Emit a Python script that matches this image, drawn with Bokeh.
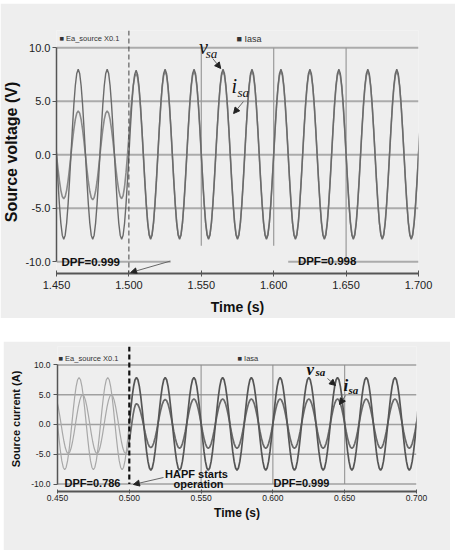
import math
from bokeh.plotting import figure
from bokeh.models import (Range1d, FixedTicker, NumeralTickFormatter, Label, Arrow,
                          NormalHead, Span, Spacer)
from bokeh.layouts import column, row
from bokeh.embed import file_html
from bokeh.resources import INLINE

# ---------------- data ----------------
top_x_ticks = [1.45, 1.50, 1.55, 1.60, 1.65, 1.70]
top_y_ticks = [-10, -5, 0, 5, 10]
# times of successive extremes (peaks / troughs) of the 50 Hz waveforms
top_ext_t = [1.445, 1.455, 1.465, 1.475, 1.485, 1.495, 1.505, 1.515, 1.525, 1.535,
             1.545, 1.555, 1.565, 1.575, 1.585, 1.595, 1.605, 1.615, 1.625, 1.635,
             1.645, 1.655, 1.665, 1.675, 1.685, 1.695, 1.705]
top_v_ext = [8.0, -7.9, 8.0, -7.9, 8.0, -7.9, 7.9, -7.9, 8.0, -7.9, 8.0, -7.9, 8.0, -7.9,
             8.0, -7.9, 8.0, -7.9, 8.0, -7.9, 8.0, -7.9, 8.0, -7.9, 8.0, -7.9, 8.0]
top_i_ext = [4.1, -4.1, 4.1, -4.2, 4.1, -4.1, 7.6, -7.8, 7.8, -7.8, 7.8, -7.8, 7.8, -7.8,
             7.8, -7.8, 7.8, -7.8, 7.8, -7.8, 7.8, -7.8, 7.8, -7.8, 7.8, -7.8, 7.8]

bot_x_ticks = [0.45, 0.50, 0.55, 0.60, 0.65, 0.70]
bot_y_ticks = [-10, -5, 0, 5, 10]
bot_v_t = [0.445, 0.455, 0.465, 0.475, 0.485, 0.495, 0.505, 0.515, 0.525, 0.535,
           0.545, 0.555, 0.565, 0.575, 0.585, 0.595, 0.605, 0.615, 0.625, 0.635,
           0.645, 0.655, 0.665, 0.675, 0.685, 0.695, 0.705]
bot_v_ext = [7.9, -7.6, 7.9, -7.6, 7.9, -7.6, 7.9, -7.7, 7.9, -7.7, 7.9, -7.7, 7.9, -7.7,
             7.9, -7.7, 7.9, -7.7, 7.9, -7.7, 7.9, -7.7, 7.9, -7.7, 7.9, -7.7, 7.9]
bot_i_t = [0.4475, 0.4575, 0.4675, 0.4775, 0.4875, 0.4975, 0.505, 0.515, 0.525, 0.535,
           0.545, 0.555, 0.565, 0.575, 0.585, 0.595, 0.605, 0.615, 0.625, 0.635,
           0.645, 0.655, 0.665, 0.675, 0.685, 0.695, 0.705]
bot_i_ext = [5.0, -4.9, 5.0, -4.9, 5.0, -4.9, 3.5, -3.9, 4.2, -4.0, 4.3, -4.0, 4.3, -4.0,
             4.3, -4.0, 4.3, -4.0, 4.3, -4.0, 4.3, -4.0, 4.3, -4.0, 4.3, -4.0, 4.3]
hapf_start = 0.50
top_switch = 1.50

BG = "#eeeeee"
FONT = "Liberation Sans"
SERIF = "Liberation Serif"


def half_waves(ts, vs, n=10):
    """Draw sinusoidal half-cycles between consecutive read extremes."""
    xs, ys = [], []
    for k in range(len(ts) - 1):
        t0, t1, a0, a1 = ts[k], ts[k + 1], vs[k], vs[k + 1]
        for j in range(n):
            f = j / n
            xs.append(t0 + (t1 - t0) * f)
            ys.append((a0 + a1) / 2 + (a0 - a1) / 2 * math.cos(math.pi * f))
    xs.append(ts[-1]); ys.append(vs[-1])
    return xs, ys


def split_at(xs, ys, t):
    k = max(i for i, x in enumerate(xs) if x <= t)
    return (xs[:k + 2], ys[:k + 2]), (xs[k:], ys[k:])


def style_axes(p, xt, yt, xfmt, tick_fs, title_x, title_y, tx_fs, ty_fs):
    p.grid.visible = False
    xa, ya = p.xaxis[0], p.yaxis[0]
    xa.ticker = FixedTicker(ticks=xt)
    ya.ticker = FixedTicker(ticks=yt)
    xa.formatter = NumeralTickFormatter(format=xfmt)
    ya.formatter = NumeralTickFormatter(format="0.0")
    ya.bounds = (min(yt), max(yt))
    for a in (xa, ya):
        a.axis_line_color = "#555555"
        a.major_tick_line_color = "#555555"
        a.minor_tick_line_color = None
        a.major_label_text_font = FONT
        a.major_label_text_font_size = tick_fs
        a.major_label_text_color = "#222222"
        a.axis_label_text_font = FONT
        a.axis_label_text_color = "#111111"
        a.axis_label_text_font_style = "bold"
    xa.axis_line_width = 2
    xa.major_tick_in = 3
    xa.major_tick_out = 3
    ya.axis_line_width = 1.5
    ya.major_tick_in = 0
    ya.major_tick_out = 4
    xa.axis_label = title_x
    ya.axis_label = title_y
    xa.axis_label_text_font_size = tx_fs
    ya.axis_label_text_font_size = ty_fs


def lab(p, x, y, text, size, style="normal", font=FONT, align="left", color="#111111"):
    p.add_layout(Label(x=x, y=y, text=text, text_font=font, text_font_size=size,
                       text_font_style=style, text_align=align, text_baseline="middle",
                       text_color=color))


def arrow(p, x0, y0, x1, y1, color="#666666"):
    p.add_layout(Arrow(end=NormalHead(size=6, fill_color="#222222", line_color="#222222"),
                       x_start=x0, y_start=y0, x_end=x1, y_end=y1,
                       line_color=color, line_width=1))


# ---------------- top panel ----------------
p1 = figure(width=455, height=315, x_range=Range1d(1.45, 1.70), y_range=Range1d(-11.09, 11.62),
            output_backend="svg", toolbar_location=None,
            min_border_left=52, min_border_right=37, min_border_top=27, min_border_bottom=45,
            background_fill_color=BG, border_fill_color=BG, outline_line_color=None)
style_axes(p1, top_x_ticks, top_y_ticks, "0.000", "11px", "Time (s)", "Source voltage (V)",
           "14px", "16px")
p1.xaxis.major_label_standoff = 4
p1.xaxis.axis_label_standoff = 7
p1.yaxis.major_label_standoff = 2
p1.yaxis.axis_label_standoff = 2

# grid lines
p1.segment(x0=[1.45] * 4 + [1.45, 1.610], x1=[1.70] * 4 + [1.5288, 1.70],
           y0=[10, 5, 0, -5, -10, -10], y1=[10, 5, 0, -5, -10, -10],
           line_color="#ababab", line_width=2)
p1.segment(x0=[1.55, 1.60, 1.65], x1=[1.55, 1.60, 1.65], y0=[10, 10, 10], y1=[-8.5, -8.5, -10],
           line_color="#9a9a9a", line_width=1.2)
p1.add_layout(Span(location=top_switch, dimension="height", line_color="#444444",
                   line_width=1, line_dash="5 3"))

vx, vy = half_waves(top_ext_t, top_v_ext)
ix, iy = half_waves(top_ext_t, top_i_ext)
p1.line(ix, iy, line_color="#8a8a8a", line_width=1.6)
p1.line(vx, vy, line_color="#6a6a6a", line_width=1.4)

lab(p1, 1.4520, 10.87, "■ Ea_source X0.1", "7.5px", color="#333333")
lab(p1, 1.5743, 10.87, "■ Iasa", "9px", color="#333333")
lab(p1, 1.5484, 10.12, "v", "20px", "italic", SERIF)
lab(p1, 1.5531, 9.50, "sa", "13px", "italic", SERIF)
arrow(p1, 1.5579, 9.0, 1.5634, 8.07)
lab(p1, 1.5709, 6.40, "i", "20px", "italic", SERIF)
lab(p1, 1.5750, 5.82, "sa", "13px", "italic", SERIF)
arrow(p1, 1.5791, 4.98, 1.5723, 3.86)
lab(p1, 1.4534, -9.98, "DPF=0.999", "11.5px", "bold")
lab(p1, 1.6167, -9.89, "DPF=0.998", "11.5px", "bold")
arrow(p1, 1.5286, -9.93, 1.5012, -11.0)

# ---------------- bottom panel ----------------
p2 = figure(width=447, height=209, x_range=Range1d(0.45, 0.70), y_range=Range1d(-11.26, 13.1),
            output_backend="svg", toolbar_location=None,
            min_border_left=54, min_border_right=34, min_border_top=5, min_border_bottom=59,
            background_fill_color=BG, border_fill_color=BG, outline_line_color=None)
style_axes(p2, bot_x_ticks, bot_y_ticks, "0.000", "8.5px", "Time (s)", "Source current (A)",
           "12px", "11px")
p2.xaxis.major_tick_in = 2
p2.xaxis.major_tick_out = 2
p2.xaxis.major_label_standoff = 1
p2.xaxis.axis_label_standoff = 2
p2.yaxis.major_label_standoff = 3
p2.yaxis.axis_label_standoff = 6

p2.segment(x0=[0.45] * 5, x1=[0.70] * 5, y0=[10, 5, 0, -5, -10], y1=[10, 5, 0, -5, -10],
           line_color="#a0a0a0", line_width=1.5)
p2.segment(x0=[0.55, 0.60, 0.65], x1=[0.55, 0.60, 0.65], y0=[10, 10, 10], y1=[-10, -10, -10],
           line_color="#8c8c8c", line_width=1)

bvx, bvy = half_waves(bot_v_t, bot_v_ext)
bix, biy = half_waves(bot_i_t, bot_i_ext)
(vpx, vpy), (vqx, vqy) = split_at(bvx, bvy, hapf_start)
(ipx, ipy), (iqx, iqy) = split_at(bix, biy, hapf_start)
p2.line(vpx, vpy, line_color="#a8a8a8", line_width=1.2)
p2.line(ipx, ipy, line_color="#a8a8a8", line_width=1.2)
p2.line(iqx, iqy, line_color="#6a6a6a", line_width=1.7)
p2.line(vqx, vqy, line_color="#555555", line_width=1.7)

p2.segment(x0=[hapf_start], x1=[hapf_start], y0=[13.1], y1=[-10], line_color="#111111",
           line_width=2.2, line_dash="5 3")

lab(p2, 0.4507, 11.09, "■ Ea_source X0.1", "7.5px", color="#333333")
lab(p2, 0.5753, 11.09, "■ Iasa", "7.5px", color="#333333")
lab(p2, 0.6234, 9.30, "v", "17px", "bold italic", SERIF)
lab(p2, 0.6297, 8.90, "sa", "11px", "bold italic", SERIF)
arrow(p2, 0.6380, 7.73, 0.6436, 6.55)
lab(p2, 0.6492, 6.60, "i", "17px", "bold italic", SERIF)
lab(p2, 0.6527, 5.71, "sa", "11px", "bold italic", SERIF)
arrow(p2, 0.6506, 4.87, 0.6464, 3.36)
lab(p2, 0.4549, -9.75, "DPF=0.786", "11px", "bold")
lab(p2, 0.5468, -8.24, "HAPF starts", "11px", "bold", align="center")
lab(p2, 0.5482, -9.92, "operation", "11px", "bold", align="center")
arrow(p2, 0.5238, -8.91, 0.5029, -10.08)
lab(p2, 0.6004, -9.75, "DPF=0.999", "11px", "bold")

layout = column(Spacer(width=455, height=3), p1, Spacer(width=455, height=23),
                row(Spacer(width=3, height=209), p2))

open("out.html", "w").write(file_html(layout, INLINE))
